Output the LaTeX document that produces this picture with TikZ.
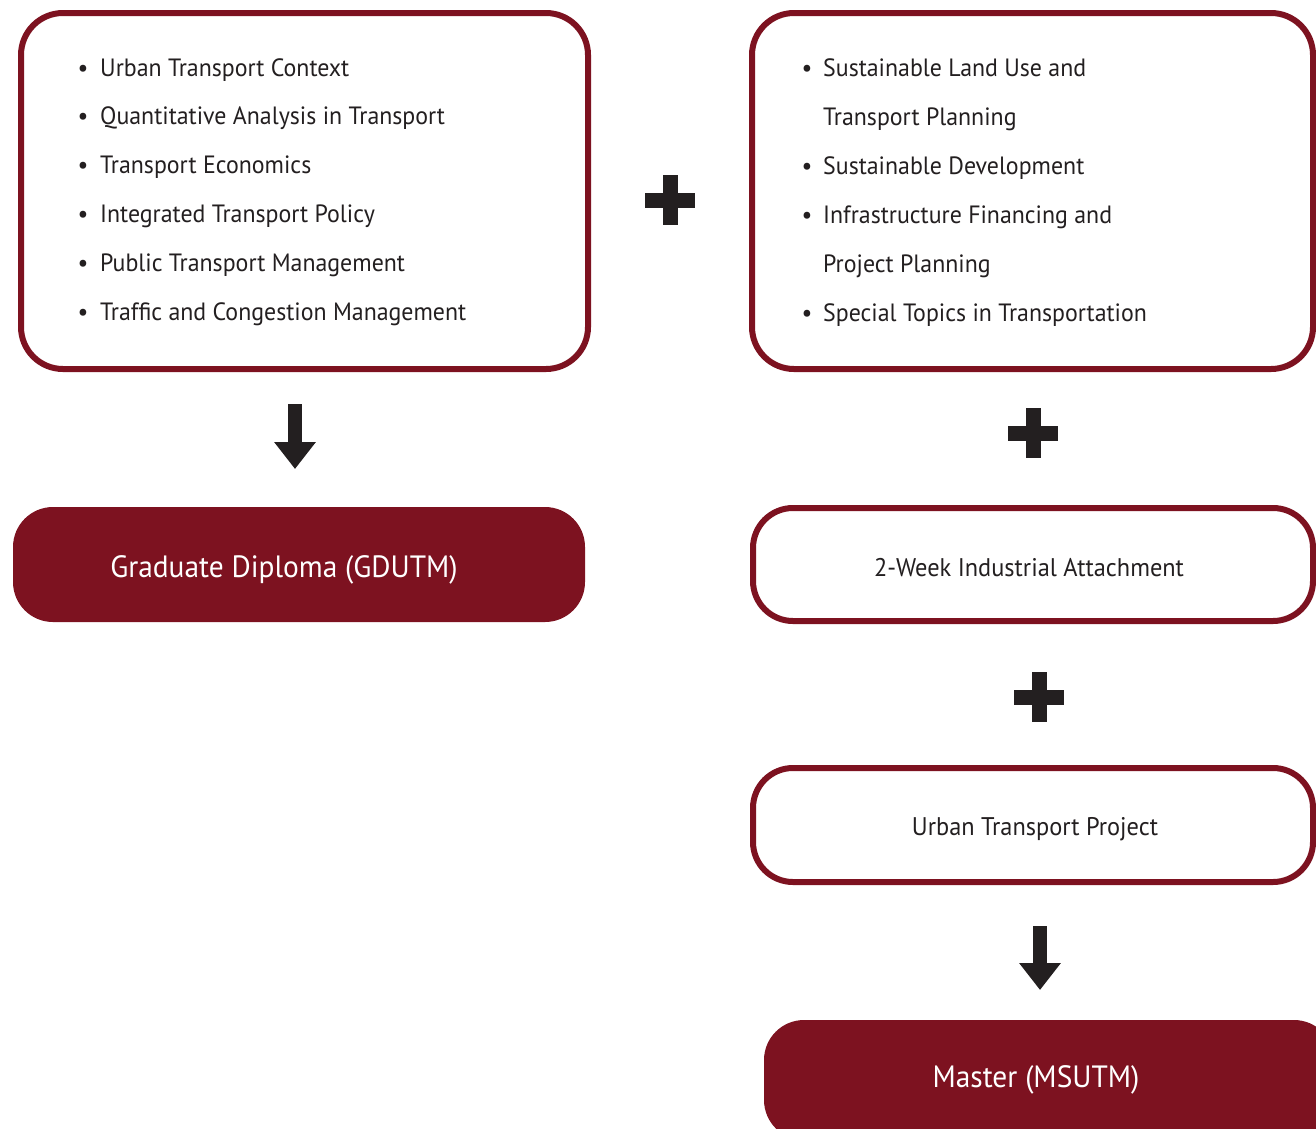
\documentclass[tikz,border=0pt]{standalone}
\usepackage{fontspec}
\setmainfont[FakeStretch=0.955]{PT Sans}
\usetikzlibrary{arrows.meta,calc}
\definecolor{maroon}{HTML}{7D1220}
\definecolor{ink}{HTML}{231F20}
\tikzset{
  outline/.style={draw=maroon, line width=6pt, rounded corners=42pt, fill=white, inner sep=0pt},
  solidbox/.style={fill=maroon, rounded corners=40pt, inner sep=0pt},
  item/.style={anchor=base west, inner sep=0pt, text=ink, font=\fontsize{25}{30}\selectfont},
  dot/.style={anchor=base, inner sep=0pt, text=ink, font=\fontsize{25}{30}\selectfont},
  boxtext/.style={text=ink, inner sep=0pt, font=\fontsize{25.5}{30}\selectfont},
  whitetext/.style={text=white, inner sep=0pt, font=\fontsize{30.8}{34}\selectfont},
  blockarrow/.style={draw=ink, line width=14pt, -{Triangle[width=40pt,length=27pt]}},
}
\newcommand{\plussign}[1]{%
  \fill[ink] ($(#1)+(-25,-7.5)$) rectangle ($(#1)+(25,7.5)$);
  \fill[ink] ($(#1)+(-7.5,-25)$) rectangle ($(#1)+(7.5,25)$);}
\begin{document}
\begin{tikzpicture}[x=1pt,y=-1pt]
\useasboundingbox (0,0) rectangle (1316,1128);
\clip (0,0) rectangle (1316,1128);
% boxes
\node[outline, minimum width=567pt, minimum height=356pt] (b1) at (304.5,191) {};
\node[outline, minimum width=561pt, minimum height=356pt] (b2) at (1032.5,191) {};
\node[outline, minimum width=560pt, minimum height=113pt, rounded corners=40pt] (b3) at (1033,564.5) {};
\node[outline, minimum width=560pt, minimum height=114pt, rounded corners=40pt] (b4) at (1033,825) {};
\node[solidbox, minimum width=572pt, minimum height=115pt] (gd) at (299,564.5) {};
\node[solidbox, minimum width=570pt, minimum height=120pt] (ms) at (1049,1080) {};
% left list
\foreach \t [count=\i] in {Urban Transport Context, Quantitative Analysis in Transport, Transport Economics, Integrated Transport Policy, Public Transport Management, Traffic and Congestion Management}{
  \node[dot] (ld\i) at (83,{76+48.8*(\i-1)}) {\textbullet};
  \node[item] (l\i) at (100,{76+48.8*(\i-1)}) {\t};
}
% right list
\node[dot] (rd1) at (807,76) {\textbullet};
\node[item] (r1) at (823,76) {Sustainable Land Use and};
\node[item] (r1b) at (823,125) {Transport Planning};
\node[dot] (rd2) at (807,174) {\textbullet};
\node[item] (r2) at (823,174) {Sustainable Development};
\node[dot] (rd3) at (807,223) {\textbullet};
\node[item] (r3) at (823,223) {Infrastructure Financing and};
\node[item] (r3b) at (823,272) {Project Planning};
\node[dot] (rd4) at (807,321) {\textbullet};
\node[item] (r4) at (823,321) {Special Topics in Transportation};
% texts
\node[boxtext] (t3) at (1029,568) {2-Week Industrial Attachment};
\node[boxtext] (t4) at (1035,829) {Urban Transport Project};
\node[whitetext] (tgd) at (284,570) {Graduate Diploma (GDUTM)};
\node[whitetext] (tms) at (1036,1080) {Master (MSUTM)};
% plus signs
\coordinate (p1) at (670,200);
\coordinate (p2) at (1033,433);
\coordinate (p3) at (1039,697);
\plussign{p1}
\plussign{p2}
\plussign{p3}
% arrows
\coordinate (a1s) at (295,404);
\coordinate (a1e) at (295,469);
\coordinate (a2s) at (1040,926);
\coordinate (a2e) at (1040,990);
\draw[blockarrow] (a1s) -- (a1e);
\draw[blockarrow] (a2s) -- (a2e);
\end{tikzpicture}
\end{document}
